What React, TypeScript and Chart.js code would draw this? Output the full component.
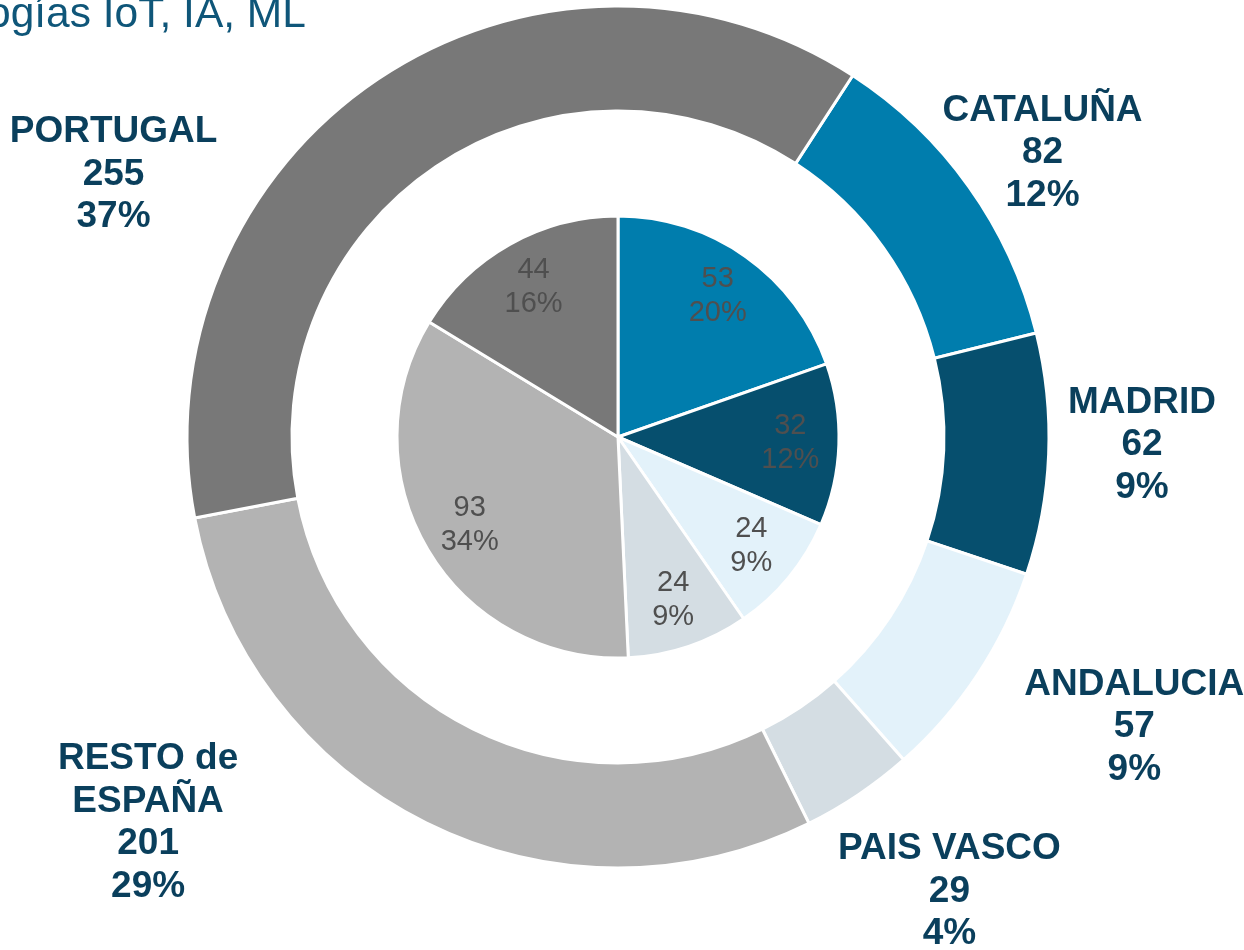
import React, { useEffect, useRef } from "react";
import { Chart, registerables } from "chart.js";

Chart.register(...registerables);

// ---- Data ----
const titleText = "ogías IoT, IA, ML";
const regions = ["CATALUÑA", "MADRID", "ANDALUCIA", "PAIS VASCO", "RESTO de\nESPAÑA", "PORTUGAL"];
const outerValues = [82, 62, 57, 29, 201, 255];
const innerValues = [53, 32, 24, 24, 93, 44];

// ---- Styles ----
const sliceColors = ["#007DAD", "#064F6E", "#E3F2FA", "#D4DDE3", "#B3B3B3", "#787878"];
const outerLabelOffsets: [number, number][] = [
  [73.6, -33.8],
  [93.3, -9.3],
  [157, 52],
  [91, 97],
  [-278, 0],
  [-264, 95],
];
const FONT = '"Liberation Sans", Arial, sans-serif';

// Excel-style percentages (largest remainder, summing to 100)
function percents(values: number[]): number[] {
  const total = values.reduce((a, b) => a + b, 0);
  const raw = values.map((v) => (v / total) * 100);
  const fl = raw.map((r) => Math.floor(r));
  let rest = 100 - fl.reduce((a, b) => a + b, 0);
  const order = raw
    .map((r, i) => ({ i, rem: r - Math.floor(r) }))
    .sort((a, b) => b.rem - a.rem);
  for (let k = 0; k < order.length && rest > 0; k++, rest--) fl[order[k].i] += 1;
  return fl;
}

const labelPlugin = {
  id: "labelPlugin",
  afterDatasetsDraw(chart: any) {
    const ctx = chart.ctx as CanvasRenderingContext2D;
    ctx.save();

    // Title (partially clipped at the page edge, as in the source)
    ctx.font = `42.5px ${FONT}`;
    ctx.fillStyle = "#0F5679";
    ctx.textAlign = "left";
    ctx.textBaseline = "alphabetic";
    ctx.fillText(titleText, -13, 26.5);

    // Outer ring labels
    const outerPct = percents(outerValues);
    const outerMeta = chart.getDatasetMeta(0);
    ctx.font = `bold 37px ${FONT}`;
    ctx.fillStyle = "#0A3F5C";
    ctx.textAlign = "center";
    ctx.textBaseline = "middle";
    outerMeta.data.forEach((arc: any, i: number) => {
      const { x, y, startAngle, endAngle, outerRadius } = arc.getProps(
        ["x", "y", "startAngle", "endAngle", "outerRadius"],
        true
      );
      const mid = (startAngle + endAngle) / 2;
      const cx = x + Math.cos(mid) * outerRadius + outerLabelOffsets[i][0];
      const cy = y + Math.sin(mid) * outerRadius + outerLabelOffsets[i][1];
      const lines = [...regions[i].split("\n"), String(outerValues[i]), `${outerPct[i]}%`];
      const lh = 42.5;
      lines.forEach((t, k) => {
        ctx.fillText(t, cx, cy + (k - (lines.length - 1) / 2) * lh);
      });
    });

    // Inner pie labels
    const innerPct = percents(innerValues);
    const innerMeta = chart.getDatasetMeta(2);
    ctx.font = `29px ${FONT}`;
    ctx.fillStyle = "#4F4F4F";
    innerMeta.data.forEach((arc: any, i: number) => {
      const { x, y, startAngle, endAngle, outerRadius } = arc.getProps(
        ["x", "y", "startAngle", "endAngle", "outerRadius"],
        true
      );
      const mid = (startAngle + endAngle) / 2;
      const r = outerRadius * 0.78;
      const cx = x + Math.cos(mid) * r;
      const cy = y + Math.sin(mid) * r;
      const lines = [String(innerValues[i]), `${innerPct[i]}%`];
      const lh = 34;
      lines.forEach((t, k) => {
        ctx.fillText(t, cx, cy + (k - (lines.length - 1) / 2) * lh);
      });
    });

    ctx.restore();
  },
};

export default function App() {
  const canvasRef = useRef<HTMLCanvasElement | null>(null);

  useEffect(() => {
    if (!canvasRef.current) return;
    const chart = new Chart(canvasRef.current, {
      type: "doughnut",
      data: {
        labels: regions.map((r) => r.replace("\n", " ")),
        datasets: [
          {
            data: outerValues,
            backgroundColor: sliceColors,
            borderColor: "#FFFFFF",
            borderWidth: 3,
            hoverBorderWidth: 3,
            hoverOffset: 0,
            offset: 0,
            rotation: 33,
            weight: 105,
          } as any,
          {
            data: [1],
            backgroundColor: "rgba(0,0,0,0)",
            borderWidth: 0,
            hoverBorderWidth: 0,
            hoverOffset: 0,
            weight: 105,
          } as any,
          {
            data: innerValues,
            backgroundColor: sliceColors,
            borderColor: "#FFFFFF",
            borderWidth: 3,
            hoverBorderWidth: 3,
            hoverOffset: 0,
            offset: 0,
            rotation: 0,
            weight: 221,
          } as any,
        ],
      },
      options: {
        responsive: false,
        animation: false,
        cutout: 0,
        events: [],
        layout: { padding: { left: 185.5, top: 4.5, right: 193.5, bottom: 80.5 } },
        plugins: {
          legend: { display: false },
          title: { display: false },
          tooltip: { enabled: false },
        },
      } as any,
      plugins: [labelPlugin],
    });
    return () => chart.destroy();
  }, []);

  return (
    <div style={{ position: "absolute", left: 0, top: 0, width: 1244, height: 950, background: "#fff" }}>
      <canvas ref={canvasRef} width={1244} height={950} style={{ display: "block" }} />
    </div>
  );
}
